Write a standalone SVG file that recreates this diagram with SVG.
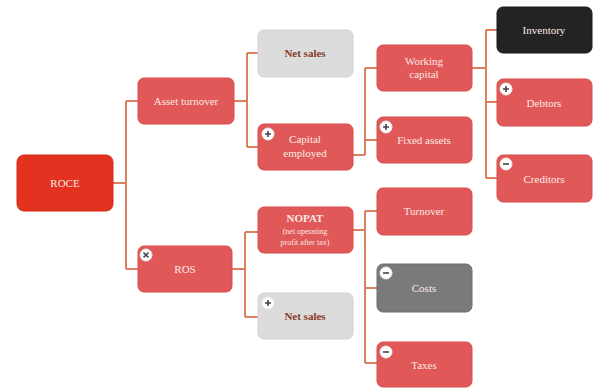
<svg xmlns="http://www.w3.org/2000/svg" width="598" height="389" viewBox="0 0 598 389">
<style>
.n{fill:#e05858;stroke:#d94c4c;stroke-width:1}
.g{fill:#dcdcdc;stroke:#d2d2d2}
.k{fill:#232323;stroke:#1a1a1a}
.d{fill:#7a7a7a;stroke:#6e6e6e}
.r{fill:#e3321f;stroke:#d62b1a}
.t{font-family:"Liberation Serif","DejaVu Serif",serif;font-size:11px;fill:#fbe9e4;text-anchor:middle}
.tg{font-family:"Liberation Serif","DejaVu Serif",serif;font-size:11px;font-weight:bold;fill:#8a3a2a;text-anchor:middle}
.ts{font-family:"Liberation Serif","DejaVu Serif",serif;font-size:8px;fill:#fbe9e4;text-anchor:middle}
.c{fill:none;stroke:#db7f5e;stroke-width:2}
.ic{fill:#ffffff;stroke:#eee}
.sy{stroke:#444;stroke-width:1.6;fill:none}
</style>
<rect width="598" height="389" fill="#ffffff"/>
<g id="connectors">
<path class="c" d="M113,183 H126 M126,101 V269 M126,101 H138 M126,269 H138"/>
<path class="c" d="M234,101 H247 M247,53 V147 M247,53 H258 M247,147 H258"/>
<path class="c" d="M353,155 H365 M365,68 V155 M365,68 H377 M365,140 H377"/>
<path class="c" d="M472,68 H486 M486,30 V178 M486,30 H497 M486,102 H497 M486,178 H497"/>
<path class="c" d="M232,269 H245 M245,232 V317 M245,232 H258 M245,317 H258"/>
<path class="c" d="M353,230 H365 M365,211 V363 M365,211 H377 M365,288 H377 M365,363 H377"/>
</g>
<g id="roce"><rect class="r" x="17" y="155" width="96" height="56" rx="7"/><text class="t" x="65" y="187" font-size="12">ROCE</text></g>
<g id="asset-turnover"><rect class="n" x="138" y="78" width="96" height="46" rx="6"/><text class="t" x="186" y="105">Asset turnover</text></g>
<g id="ros"><rect class="n" x="138" y="246" width="94" height="46" rx="6"/><circle class="ic" cx="146" cy="255" r="6"/><path class="sy" d="M143.5,252.5 l5,5 M148.5,252.5 l-5,5"/><text class="t" x="185" y="273">ROS</text></g>
<g id="net-sales-1"><rect class="g" x="258" y="30" width="95" height="47" rx="6"/><text class="tg" x="305" y="57">Net sales</text></g>
<g id="capital-employed"><rect class="n" x="258" y="124" width="95" height="46" rx="6"/><circle class="ic" cx="268" cy="134" r="6"/><path class="sy" d="M265,134 h6 M268,131 v6"/><text class="t" x="305" y="143">Capital</text><text class="t" x="305" y="157">employed</text></g>
<g id="working-capital"><rect class="n" x="377" y="45" width="95" height="46" rx="6"/><text class="t" x="424" y="65">Working</text><text class="t" x="424" y="78">capital</text></g>
<g id="fixed-assets"><rect class="n" x="377" y="117" width="95" height="46" rx="6"/><circle class="ic" cx="386" cy="127" r="6"/><path class="sy" d="M383,127 h6 M386,124 v6"/><text class="t" x="424" y="144">Fixed assets</text></g>
<g id="inventory"><rect class="k" x="497" y="7" width="95" height="46" rx="6"/><text class="t" x="544" y="34">Inventory</text></g>
<g id="debtors"><rect class="n" x="497" y="79" width="95" height="47" rx="6"/><circle class="ic" cx="506" cy="89" r="6"/><path class="sy" d="M503,89 h6 M506,86 v6"/><text class="t" x="544" y="107">Debtors</text></g>
<g id="creditors"><rect class="n" x="497" y="155" width="95" height="47" rx="6"/><circle class="ic" cx="506" cy="164" r="6"/><path class="sy" d="M503,164 h6"/><text class="t" x="544" y="183">Creditors</text></g>
<g id="nopat"><rect class="n" x="258" y="207" width="95" height="46" rx="6"/><text class="t" x="305" y="222" font-weight="bold">NOPAT</text><text class="ts" x="305" y="234">(net operating</text><text class="ts" x="305" y="245">profit after tax)</text></g>
<g id="net-sales-2"><rect class="g" x="258" y="293" width="95" height="46" rx="6"/><circle class="ic" cx="268" cy="303" r="6"/><path class="sy" d="M265,303 h6 M268,300 v6"/><text class="tg" x="305" y="320">Net sales</text></g>
<g id="turnover"><rect class="n" x="377" y="188" width="95" height="47" rx="6"/><text class="t" x="424" y="215">Turnover</text></g>
<g id="costs"><rect class="d" x="377" y="264" width="95" height="48" rx="6"/><circle class="ic" cx="386" cy="273" r="6"/><path class="sy" d="M383,273 h6"/><text class="t" x="424" y="292">Costs</text></g>
<g id="taxes"><rect class="n" x="377" y="342" width="95" height="45" rx="6"/><circle class="ic" cx="386" cy="352" r="6"/><path class="sy" d="M383,352 h6"/><text class="t" x="424" y="369">Taxes</text></g>
</svg>
